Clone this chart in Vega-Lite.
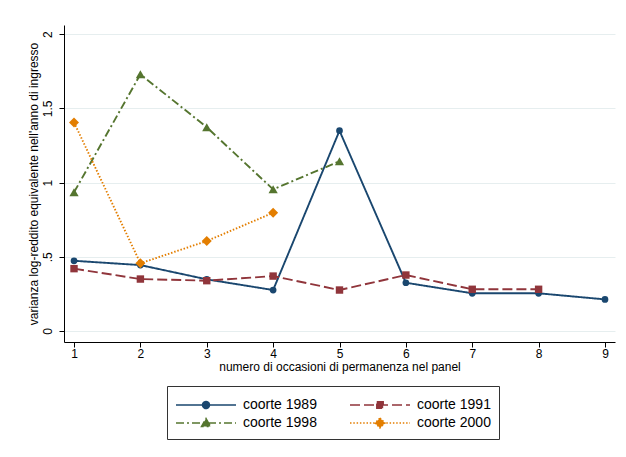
{
  "$schema": "https://vega.github.io/schema/vega-lite/v6.json",
  "width": 551,
  "height": 317,
  "autosize": {"type": "none"},
  "padding": {"left": 64, "top": 25, "right": 11, "bottom": 115},
  "background": "white",
  "config": {
    "view": {"stroke": null},
    "font": "Liberation Sans",
    "axis": {"labelFont": "Liberation Sans", "titleFont": "Liberation Sans", "labelColor": "#000", "titleColor": "#000", "titleFontWeight": "normal", "domainColor": "#000", "tickColor": "#000", "tickSize": 5}
  },
  "resolve": {"legend": {"color": "independent", "strokeDash": "independent", "stroke": "independent", "shape": "independent"}},
  "data": {
    "values": [
      {"x": 1, "v": 0.473, "series": "coorte 1989"},
      {"x": 2, "v": 0.444, "series": "coorte 1989"},
      {"x": 3, "v": 0.348, "series": "coorte 1989"},
      {"x": 4, "v": 0.276, "series": "coorte 1989"},
      {"x": 5, "v": 1.349, "series": "coorte 1989"},
      {"x": 6, "v": 0.325, "series": "coorte 1989"},
      {"x": 7, "v": 0.254, "series": "coorte 1989"},
      {"x": 8, "v": 0.254, "series": "coorte 1989"},
      {"x": 9, "v": 0.213, "series": "coorte 1989"},
      {"x": 1, "v": 0.420, "series": "coorte 1991"},
      {"x": 2, "v": 0.350, "series": "coorte 1991"},
      {"x": 3, "v": 0.339, "series": "coorte 1991"},
      {"x": 4, "v": 0.370, "series": "coorte 1991"},
      {"x": 5, "v": 0.276, "series": "coorte 1991"},
      {"x": 6, "v": 0.377, "series": "coorte 1991"},
      {"x": 7, "v": 0.281, "series": "coorte 1991"},
      {"x": 8, "v": 0.281, "series": "coorte 1991"},
      {"x": 1, "v": 0.934, "series": "coorte 1998"},
      {"x": 2, "v": 1.729, "series": "coorte 1998"},
      {"x": 3, "v": 1.372, "series": "coorte 1998"},
      {"x": 4, "v": 0.954, "series": "coorte 1998"},
      {"x": 5, "v": 1.143, "series": "coorte 1998"},
      {"x": 1, "v": 1.405, "series": "coorte 2000"},
      {"x": 2, "v": 0.456, "series": "coorte 2000"},
      {"x": 3, "v": 0.606, "series": "coorte 2000"},
      {"x": 4, "v": 0.796, "series": "coorte 2000"}
    ]
  },
  "encoding": {
    "x": {
      "field": "x", "type": "quantitative",
      "scale": {"domain": [0.849, 9.151], "nice": false, "zero": false},
      "axis": {"values": [1, 2, 3, 4, 5, 6, 7, 8, 9], "grid": false, "labelFontSize": 12, "labelPadding": 1, "title": "numero di occasioni di permanenza nel panel", "titleFontSize": 12, "titlePadding": 2, "labelFlush": false}
    },
    "y": {
      "field": "v", "type": "quantitative",
      "scale": {"domain": [-0.074, 2.061], "nice": false, "zero": false},
      "axis": {"values": [0, 0.5, 1, 1.5, 2], "grid": true, "gridColor": "#e6eeef", "gridWidth": 1, "labelFontSize": 12, "labelAngle": -90, "labelAlign": "center", "labelBaseline": "bottom", "labelPadding": 5, "labelExpr": "datum.value == 0.5 ? '.5' : format(datum.value, '~g')", "title": "varianza log-reddito equivalente nell'anno di ingresso", "titleFontSize": 12, "titlePadding": 1}
    },
    "color": {
      "field": "series", "type": "nominal",
      "scale": {"domain": ["coorte 1989", "coorte 1991", "coorte 1998", "coorte 2000"], "range": ["#1a476f", "#90353b", "#55752f", "#e37e00"]},
      "legend": null
    }
  },
  "layer": [
    {
      "mark": {"type": "line"},
      "encoding": {
        "strokeDash": {
          "field": "series", "type": "nominal",
          "scale": {"domain": ["coorte 1989", "coorte 1991", "coorte 1998", "coorte 2000"], "range": [[1, 0], [10, 4], [8, 3, 2, 3], [1.5, 1.8]]},
          "legend": null
        },
        "strokeWidth": {
          "field": "series", "type": "nominal",
          "scale": {"domain": ["coorte 1989", "coorte 1991", "coorte 1998", "coorte 2000"], "range": [1.9, 1.9, 1.7, 1.4]},
          "legend": null
        }
      }
    },
    {
      "transform": [{"filter": "datum.series == 'coorte 1989'"}],
      "mark": {"type": "point", "shape": "circle", "filled": true, "opacity": 1, "size": 45}
    },
    {
      "transform": [{"filter": "datum.series == 'coorte 1991'"}],
      "mark": {"type": "point", "shape": "square", "filled": true, "opacity": 1, "size": 55}
    },
    {
      "transform": [{"filter": "datum.series == 'coorte 1998'"}],
      "mark": {"type": "point", "shape": "triangle-up", "filled": true, "opacity": 1, "size": 85}
    },
    {
      "transform": [{"filter": "datum.series == 'coorte 2000'"}],
      "mark": {"type": "point", "shape": "diamond", "filled": true, "opacity": 1, "size": 100}
    },
    {
      "transform": [{"filter": "datum.series == 'legend only'"}],
      "mark": {"type": "point", "filled": true, "opacity": 1, "size": 400, "strokeWidth": 1.5},
      "encoding": {
        "color": {
          "field": "series", "type": "nominal",
          "scale": {"domain": ["coorte 1989", "coorte 1991", "coorte 1998", "coorte 2000"], "range": ["#1a476f", "#90353b", "#55752f", "#e37e00"]},
          "legend": {
            "title": null, "orient": "none", "legendX": 103, "legendY": 361, "direction": "horizontal", "columns": 2,
            "symbolSize": 400, "symbolStrokeWidth": 1.5, "symbolOpacity": 1,
            "labelFont": "Liberation Sans", "labelFontSize": 14, "labelColor": "#000", "labelOffset": 46, "labelLimit": 200,
            "columnPadding": 30, "rowPadding": 0, "padding": 8, "strokeColor": "#333333"
          }
        },
        "stroke": {
          "field": "series", "type": "nominal",
          "scale": {"domain": ["coorte 1989", "coorte 1991", "coorte 1998", "coorte 2000"], "range": ["#1a476f", "#90353b", "#55752f", "#e37e00"]},
          "legend": {
            "title": null, "orient": "none", "legendX": 103, "legendY": 361, "direction": "horizontal", "columns": 2,
            "symbolSize": 400, "symbolStrokeWidth": 1.5, "symbolOpacity": 1,
            "labelFont": "Liberation Sans", "labelFontSize": 14, "labelColor": "#000", "labelOffset": 46, "labelLimit": 200,
            "columnPadding": 30, "rowPadding": 0, "padding": 8, "strokeColor": "#333333"
          }
        },
        "strokeDash": {
          "field": "series", "type": "nominal",
          "scale": {"domain": ["coorte 1989", "coorte 1991", "coorte 1998", "coorte 2000"], "range": [[1, 0], [10, 4], [8, 3, 2, 3], [1.5, 1.8]]},
          "legend": {
            "title": null, "orient": "none", "legendX": 103, "legendY": 361, "direction": "horizontal", "columns": 2,
            "symbolSize": 400, "symbolStrokeWidth": 1.5, "symbolOpacity": 1,
            "labelFont": "Liberation Sans", "labelFontSize": 14, "labelColor": "#000", "labelOffset": 46, "labelLimit": 200,
            "columnPadding": 30, "rowPadding": 0, "padding": 8, "strokeColor": "#333333"
          }
        },
        "shape": {
          "field": "series", "type": "nominal",
          "scale": {"domain": ["coorte 1989", "coorte 1991", "coorte 1998", "coorte 2000"], "range": ["M-1,0H5M1.65,0A0.35,0.35,0,1,0,2.35,0A0.35,0.35,0,1,0,1.65,0Z", "M-1,0H5M1.68,-0.32H2.32V0.32H1.68Z", "M-1,0H5M2,-0.45L2.45,0.35L1.55,0.35Z", "M-1,0H5M2,-0.5L2.5,0L2,0.5L1.5,0Z"]},
          "legend": {
            "title": null, "orient": "none", "legendX": 103, "legendY": 361, "direction": "horizontal", "columns": 2,
            "symbolSize": 400, "symbolStrokeWidth": 1.5, "symbolOpacity": 1,
            "labelFont": "Liberation Sans", "labelFontSize": 14, "labelColor": "#000", "labelOffset": 46, "labelLimit": 200,
            "columnPadding": 30, "rowPadding": 0, "padding": 8, "strokeColor": "#333333"
          }
        }
      }
    }
  ]
}
